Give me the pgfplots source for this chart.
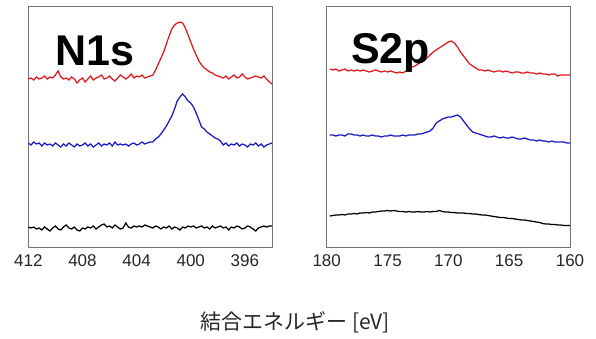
\documentclass[border=0pt]{standalone}
\usepackage{pgfplots}
\pgfplotsset{compat=1.18}
\usepackage{fontspec}
\setmainfont{Liberation Sans}
\newfontfamily\cjk{Noto Sans CJK JP}
\definecolor{cred}{RGB}{225,25,30}
\definecolor{cblue}{RGB}{25,25,200}
\definecolor{cframe}{RGB}{115,115,115}
\begin{document}
\begin{tikzpicture}
\useasboundingbox (0,0) rectangle (596pt,338pt);
\pgfplotsset{
  panel/.style={
    scale only axis, anchor=south west,
    height=241pt, ymin=0, ymax=241,
    x dir=reverse, ytick=\empty,
    axis line style={cframe, line width=0.8pt},
    xtick style={draw=none},
    tick label style={font=\fontsize{17}{17}\selectfont, text=black!85},
    xticklabel style={yshift=-4pt},
    /pgf/number format/assume math mode=true,
    clip=true,
  },
  curve/.style={line width=1.25pt, no marks},
}
% ---------------- N1s ----------------
\begin{axis}[panel, at={(28.3pt,91pt)}, width=243.7pt,
  xmin=394, xmax=412, xtick={396,400,404,408,412}]
\addplot[curve, cred] coordinates {
(412.0,168)(411.8,169)(411.6,167)(411.4,170)(411.2,168)(411.0,169)(410.8,171)(410.6,168)(410.4,170)(410.2,169)
(410.0,172)(409.8,176)(409.6,170)(409.4,168)(409.2,169)(409.0,167)(408.8,170)(408.6,168)(408.4,164)(408.2,167)
(408.0,169)(407.8,165)(407.6,168)(407.4,171)(407.2,167)(407.0,169)(406.8,170)(406.6,172)(406.4,168)(406.2,169)
(406.0,171)(405.8,168)(405.6,166)(405.4,169)(405.2,172)(405.0,170)(404.8,168)(404.6,170)(404.4,173)(404.2,169)
(404.0,171)(403.8,170)(403.6,172)(403.4,169)(403.2,170)(403.0,171)(402.8,172)(402.6,177)(402.4,183)(402.2,189)
(402.0,195)(401.8,203)(401.6,211)(401.4,218)(401.2,222)(401.0,224)(400.8,225)(400.6,224)(400.4,219)(400.2,212)
(400.0,205)(399.8,198)(399.6,192)(399.4,186)(399.2,182)(399.0,179)(398.8,177)(398.6,175)(398.4,174)(398.2,172)
(398.0,171)(397.8,170)(397.6,169)(397.4,171)(397.2,168)(397.0,170)(396.8,172)(396.6,169)(396.4,170)(396.2,173)
(396.0,170)(395.8,168)(395.6,169)(395.4,170)(395.2,171)(395.0,170)(394.8,169)(394.6,171)(394.4,168)(394.2,165)
(394.0,163)};
\addplot[curve, cblue] coordinates {
(412.0,104)(411.8,102)(411.6,105)(411.4,103)(411.2,104)(411.0,101)(410.8,104)(410.6,102)(410.4,103)(410.2,101)
(410.0,104)(409.8,102)(409.6,100)(409.4,103)(409.2,101)(409.0,104)(408.8,102)(408.6,100)(408.4,103)(408.2,101)
(408.0,102)(407.8,104)(407.6,101)(407.4,103)(407.2,100)(407.0,102)(406.8,104)(406.6,101)(406.4,103)(406.2,102)
(406.0,104)(405.8,101)(405.6,105)(405.4,102)(405.2,103)(405.0,102)(404.8,103)(404.6,101)(404.4,103)(404.2,104)
(404.0,102)(403.8,103)(403.6,105)(403.4,103)(403.2,104)(403.0,105)(402.8,105)(402.6,108)(402.4,110)(402.2,113)
(402.0,117)(401.8,121)(401.6,126)(401.4,131)(401.2,138)(401.0,146)(400.8,150)(400.6,153)(400.4,150)(400.2,146)
(400.0,144)(399.8,140)(399.6,134)(399.4,127)(399.2,120)(399.0,118)(398.8,115)(398.6,113)(398.4,111)(398.2,109)
(398.0,108)(397.8,106)(397.6,102)(397.4,104)(397.2,101)(397.0,103)(396.8,102)(396.6,104)(396.4,101)(396.2,103)
(396.0,102)(395.8,100)(395.6,103)(395.4,102)(395.2,104)(395.0,101)(394.8,103)(394.6,100)(394.4,102)(394.2,103)
(394.0,104)};
\addplot[curve, black] coordinates {
(412.0,20)(411.8,19)(411.6,20)(411.4,18)(411.2,19)(411.0,17)(410.8,20)(410.6,18)(410.4,16)(410.2,19)
(410.0,21)(409.8,18)(409.6,17)(409.4,20)(409.2,22)(409.0,19)(408.8,18)(408.6,20)(408.4,17)(408.2,16)
(408.0,19)(407.8,18)(407.6,20)(407.4,19)(407.2,21)(407.0,18)(406.8,20)(406.6,22)(406.4,23)(406.2,20)
(406.0,21)(405.8,19)(405.6,22)(405.4,20)(405.2,18)(405.0,19)(404.8,24)(404.6,20)(404.4,19)(404.2,21)
(404.0,20)(403.8,21)(403.6,20)(403.4,22)(403.2,21)(403.0,20)(402.8,19)(402.6,21)(402.4,20)(402.2,18)
(402.0,20)(401.8,19)(401.6,21)(401.4,18)(401.2,20)(401.0,19)(400.8,17)(400.6,20)(400.4,19)(400.2,21)
(400.0,20)(399.8,21)(399.6,19)(399.4,20)(399.2,21)(399.0,19)(398.8,20)(398.6,18)(398.4,21)(398.2,19)
(398.0,20)(397.8,21)(397.6,19)(397.4,20)(397.2,17)(397.0,20)(396.8,19)(396.6,21)(396.4,20)(396.2,18)
(396.0,19)(395.8,21)(395.6,20)(395.4,18)(395.2,16)(395.0,19)(394.8,20)(394.6,21)(394.4,20)(394.2,21)
(394.0,21)};
\node[anchor=base west, inner sep=0pt, font=\fontsize{43}{43}\selectfont\bfseries]
  at (rel axis cs:0.11,0.755) {N1s};
\end{axis}
% ---------------- S2p ----------------
\begin{axis}[panel, at={(326.7pt,91pt)}, width=243.3pt,
  xmin=160, xmax=180, xtick={160,165,170,175,180}]
\addplot[curve, cred] coordinates {
(179.75,178)(179.5,177)(179.25,178)(179.0,176)(178.75,177)(178.5,178)(178.25,176)(178.0,177)
(177.75,176)(177.5,177)(177.25,176)(177.0,177)(176.75,176)(176.5,175)(176.25,176)(176.0,177)
(175.75,176)(175.5,175)(175.25,176)(175.0,175)(174.75,176)(174.5,175)(174.25,174)(174.0,175)
(173.75,174)(173.5,176)(173.25,178)(173.0,180)(172.75,181)(172.5,183)(172.25,185)(172.0,186)
(171.75,189)(171.5,192)(171.25,195)(171.0,197)(170.75,199)(170.5,201)(170.25,203)(170.0,205)
(169.75,206)(169.5,204)(169.25,200)(169.0,195)(168.75,191)(168.5,187)(168.25,183)(168.0,181)
(167.75,179)(167.5,177)(167.25,177)(167.0,176)(166.75,177)(166.5,176)(166.25,175)(166.0,176)
(165.75,176)(165.5,175)(165.25,176)(165.0,175)(164.75,174)(164.5,175)(164.25,175)(164.0,174)
(163.75,174)(163.5,175)(163.25,174)(163.0,174)(162.75,173)(162.5,174)(162.25,173)(162.0,173)
(161.75,172)(161.5,173)(161.25,173)(161.0,171)(160.75,172)(160.5,172)(160.25,172)(160.0,172)};
\addplot[curve, cblue] coordinates {
(179.75,112)(179.5,112)(179.25,111)(179.0,112)(178.75,112)(178.5,111)(178.25,113)(178.0,113)
(177.75,112)(177.5,112)(177.25,111)(177.0,112)(176.75,111)(176.5,111)(176.25,112)(176.0,111)
(175.75,111)(175.5,110)(175.25,111)(175.0,111)(174.75,112)(174.5,111)(174.25,111)(174.0,111)
(173.75,112)(173.5,111)(173.25,112)(173.0,112)(172.75,112)(172.5,113)(172.25,113)(172.0,114)
(171.75,115)(171.5,116)(171.25,119)(171.0,124)(170.75,126)(170.5,128)(170.25,129)(170.0,130)
(169.75,130)(169.5,131)(169.25,132)(169.0,130)(168.75,126)(168.5,122)(168.25,118)(168.0,115)
(167.75,114)(167.5,113)(167.25,112)(167.0,111)(166.75,110)(166.5,110)(166.25,111)(166.0,110)
(165.75,109)(165.5,110)(165.25,109)(165.0,109)(164.75,110)(164.5,109)(164.25,108)(164.0,108)
(163.75,109)(163.5,108)(163.25,107)(163.0,107)(162.75,106)(162.5,107)(162.25,106)(162.0,106)
(161.75,105)(161.5,106)(161.25,105)(161.0,105)(160.75,105)(160.5,105)(160.25,104)(160.0,104)};
\addplot[curve, black] coordinates {
(179.75,31)(179.5,31.5)(179.25,32)(179.0,32)(178.75,32.5)(178.5,32)(178.25,33)(178.0,33)
(177.75,33.5)(177.5,33)(177.25,34)(177.0,34)(176.75,34.5)(176.5,34)(176.25,35)(176.0,35)
(175.75,35.5)(175.5,36)(175.25,36)(175.0,36.5)(174.75,36)(174.5,36.5)(174.25,36)(174.0,35.5)
(173.75,35.5)(173.5,35)(173.25,35.5)(173.0,35)(172.75,35)(172.5,35.5)(172.25,35)(172.0,35)
(171.75,35.5)(171.5,35)(171.25,35.5)(171.0,35.5)(170.75,36.5)(170.5,35.5)(170.25,35)(170.0,35)
(169.75,34.5)(169.5,34.5)(169.25,34)(169.0,34)(168.75,34)(168.5,33.5)(168.25,33.5)(168.0,33)
(167.75,33)(167.5,32.5)(167.25,32)(167.0,32)(166.75,31.5)(166.5,31)(166.25,30.5)(166.0,30)
(165.75,29.5)(165.5,29.5)(165.25,29)(165.0,28.5)(164.75,28.5)(164.5,28)(164.25,27.5)(164.0,27)
(163.75,27)(163.5,26.5)(163.25,26)(163.0,25.5)(162.75,25)(162.5,24.5)(162.25,23.5)(162.0,23)
(161.75,23)(161.5,22.5)(161.25,22.5)(161.0,22)(160.75,22)(160.5,21.5)(160.25,21.5)(160.0,21.5)};
\node[anchor=base west, inner sep=0pt, font=\fontsize{43}{43}\selectfont\bfseries]
  at (rel axis cs:0.10,0.762) {S2p};
\end{axis}
\node[font=\cjk\fontsize{21}{21}\selectfont, text=black!85] at (295pt,16pt) {結合エネルギー [eV]};
\end{tikzpicture}
\end{document}
